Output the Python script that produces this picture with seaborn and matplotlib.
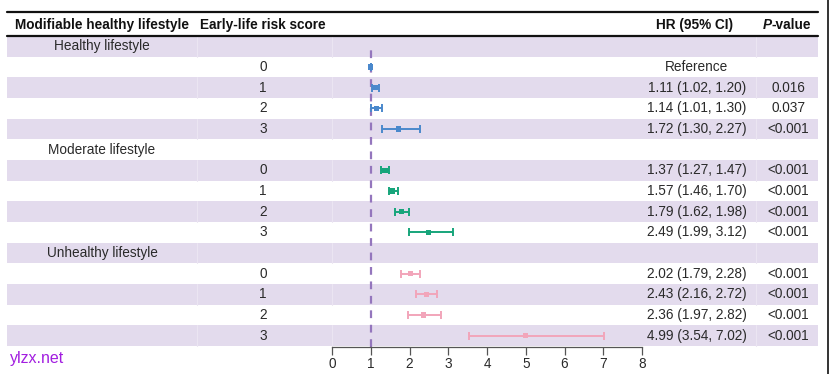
import matplotlib.pyplot as plt
import seaborn as sns
import numpy as np
import pandas as pd
from matplotlib.patches import Rectangle

sns.set_theme(style='white')
plt.rcParams['font.family'] = ['Liberation Sans', 'DejaVu Sans']

# Data
groups = ['Healthy lifestyle', 'Moderate lifestyle', 'Unhealthy lifestyle']
scores = ['0', '1', '2', '3']
hr = [1.00, 1.11, 1.14, 1.72,
      1.37, 1.57, 1.79, 2.49,
      2.02, 2.43, 2.36, 4.99]
lo = [1.00, 1.02, 1.01, 1.30,
      1.27, 1.46, 1.62, 1.99,
      1.79, 2.16, 1.97, 3.54]
hi = [1.00, 1.20, 1.30, 2.27,
      1.47, 1.70, 1.98, 3.12,
      2.28, 2.72, 2.82, 7.02]
hr_text = ['Reference', '1.11 (1.02, 1.20)', '1.14 (1.01, 1.30)', '1.72 (1.30, 2.27)',
           '1.37 (1.27, 1.47)', '1.57 (1.46, 1.70)', '1.79 (1.62, 1.98)', '2.49 (1.99, 3.12)',
           '2.02 (1.79, 2.28)', '2.43 (2.16, 2.72)', '2.36 (1.97, 2.82)', '4.99 (3.54, 7.02)']
p_text = ['', '0.016', '0.037', '<0.001',
          '<0.001', '<0.001', '<0.001', '<0.001',
          '<0.001', '<0.001', '<0.001', '<0.001']
x_ticks = [0, 1, 2, 3, 4, 5, 6, 7, 8]

COLORS = {'Healthy lifestyle': '#4a88cc',
          'Moderate lifestyle': '#17a57b',
          'Unhealthy lifestyle': '#f2a5ba'}
SHADE = '#e3dbed'
TXT = '#2a2a2a'

# build row table: group header row followed by 4 score rows
rows = []
k = 0
for g in groups:
    rows.append({'kind': 'group', 'label': g})
    for s in scores:
        rows.append({'kind': 'item', 'group': g, 'score': s, 'hr': hr[k], 'lo': lo[k],
                     'hi': hi[k], 'hr_text': hr_text[k], 'p_text': p_text[k]})
        k += 1
n_rows = len(rows)
df = pd.DataFrame([r for r in rows if r['kind'] == 'item'])
df['row'] = [i + 0.5 for i, r in enumerate(rows) if r['kind'] == 'item']

W, H = 832, 374
fig = plt.figure(figsize=(W / 100, H / 100), dpi=100)

# background "table" axes in pixel coordinates
bg = fig.add_axes([0, 0, 1, 1])
bg.set_xlim(0, W)
bg.set_ylim(H, 0)
bg.axis('off')

left, right = 7, 818
top_rule, head_rule = 12, 36
row_h = (346 - head_rule) / n_rows
col1_c, col2_c, hr_c, p_c = 102, 263, 697, 788
fs = 9.8

for i in range(n_rows):
    y0 = head_rule + i * row_h
    if i % 2 == 0:
        bg.add_patch(Rectangle((left, y0), right - left, row_h, color=SHADE, lw=0, zorder=0))
        for xs in [197, 332, 756]:
            bg.plot([xs, xs], [y0, y0 + row_h], color='#ebe5f2', lw=0.8, zorder=1)
    yc = y0 + row_h / 2
    r = rows[i]
    if r['kind'] == 'group':
        bg.text(col1_c, yc, r['label'], ha='center', va='center', fontsize=fs, color=TXT)
    else:
        bg.text(col2_c, yc, r['score'], ha='center', va='center', fontsize=fs, color=TXT)
        bg.text(hr_c, yc, r['hr_text'], ha='center', va='center', fontsize=fs, color=TXT)
        if r['p_text']:
            bg.text(p_c, yc, r['p_text'], ha='center', va='center', fontsize=fs, color=TXT)

bg.plot([left, right], [top_rule, top_rule], color='#111111', lw=1.6)
bg.plot([left, right], [head_rule, head_rule], color='#111111', lw=1.6)
bg.plot([828, 828], [0, H], color='#111111', lw=1.2)

hy = (top_rule + head_rule) / 2 + 0.5
bg.text(col1_c, hy, 'Modifiable healthy lifestyle', ha='center', va='center', fontsize=fs, fontweight='bold', color='#111111')
bg.text(col2_c, hy, 'Early-life risk score', ha='center', va='center', fontsize=fs, fontweight='bold', color='#111111')
bg.text(694, hy, 'HR (95% CI)', ha='center', va='center', fontsize=fs, fontweight='bold', color='#111111')
bg.text(763, hy, 'P', ha='left', va='center', fontsize=fs, fontweight='bold', fontstyle='italic', color='#111111')
bg.text(771, hy, '-value', ha='left', va='center', fontsize=fs, fontweight='bold', color='#111111')

bg.text(10, 358, 'ylzx.net', ha='left', va='center', fontsize=11.5, color='#a21ee0')

# forest axes
x0, x1 = 332, 642
ax = fig.add_axes([x0 / W, (H - 347) / H, (x1 - x0) / W, (347 - head_rule) / H])
ax.patch.set_alpha(0)
ax.set_xlim(0, 8)
ax.set_ylim((347 - head_rule) / row_h, 0)

ax.axvline(1, ymin=0, ymax=1 - 0.45 / ((347 - head_rule) / row_h), color='#9476bd',
           lw=1.6, ls=(0, (3.5, 3)), zorder=2)

for g in groups:
    d = df[df['group'] == g]
    ax.errorbar(d['hr'], d['row'], xerr=[d['hr'] - d['lo'], d['hi'] - d['hr']],
                fmt='none', ecolor=COLORS[g], elinewidth=1.4, capsize=3.2, capthick=1.4, zorder=3)
sns.scatterplot(data=df, x='hr', y='row', hue='group', palette=COLORS, marker='s',
                s=14, linewidth=0, legend=False, ax=ax, zorder=4)

ax.set_xticks(x_ticks)
ax.set_yticks([])
ax.set_xlabel('')
ax.set_ylabel('')
for s in ['top', 'left', 'right']:
    ax.spines[s].set_visible(False)
ax.spines['bottom'].set_color('#555555')
ax.spines['bottom'].set_linewidth(0.9)
ax.tick_params(axis='x', direction='out', length=5.5, width=0.9, color='#555555',
               labelsize=fs, labelcolor=TXT, pad=2, bottom=True)

fig.savefig('out.png', dpi=100)
